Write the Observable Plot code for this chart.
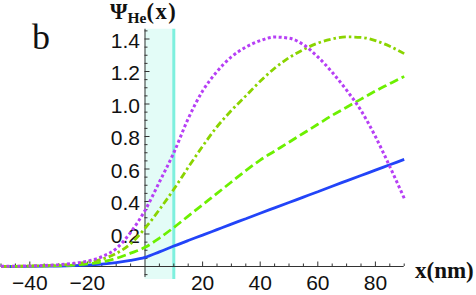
<!DOCTYPE html>
<html><head><meta charset="utf-8">
<script src="https://cdn.jsdelivr.net/npm/d3@7"></script>
<script src="https://cdn.jsdelivr.net/npm/@observablehq/plot@0.6"></script>
<style>
html,body{margin:0;padding:0;background:#fff;}
#wrap{position:relative;width:476px;height:295px;overflow:hidden;}
</style></head><body><div id="wrap"></div>
<script>
// x positions (nm)
const xs = [-50,-45,-40,-35,-30,-25,-20,-15,-10,-5,0,5,10,15,20,25,30,35,40,45,50,55,60,65,70,75,80,85,90];
// series values
const blueSolid   = [0.000,0.000,0.001,0.002,0.003,0.005,0.009,0.015,0.024,0.037,0.056,0.090,0.126,0.160,0.193,0.227,0.261,0.294,0.328,0.361,0.394,0.427,0.460,0.494,0.527,0.560,0.593,0.626,0.659];
const greenDashed = [0.000,0.001,0.002,0.003,0.005,0.009,0.016,0.028,0.050,0.082,0.118,0.175,0.240,0.310,0.380,0.450,0.520,0.590,0.655,0.710,0.765,0.820,0.875,0.930,0.980,1.030,1.080,1.125,1.170];
const greenDashDot= [0.000,0.001,0.003,0.005,0.009,0.015,0.027,0.045,0.080,0.140,0.235,0.350,0.475,0.610,0.740,0.860,0.960,1.050,1.140,1.220,1.285,1.335,1.375,1.400,1.413,1.410,1.390,1.355,1.310];
const purpleDotted= [0.001,0.002,0.003,0.006,0.011,0.019,0.033,0.060,0.110,0.210,0.345,0.520,0.700,0.910,1.080,1.200,1.290,1.350,1.390,1.412,1.405,1.365,1.290,1.195,1.085,0.960,0.800,0.615,0.420];
// shaded region (nm)
const shadeRegion = [0, 10];
// axis extents and ticks
const xDomain = [-50, 90];
const yDomain = [-0.08, 1.46];
const xMajorTicks = [-40, -20, 20, 40, 60, 80];
const xMinorTicks = d3.range(-50, 91, 5).filter(v => v % 20 !== 0);
const yMajorTicks = [0.2, 0.4, 0.6, 0.8, 1.0, 1.2, 1.4];
const yMinorTicks = d3.range(-1, 30).map(i => +(i * 0.05).toFixed(2)).filter(v => Math.round(v * 100) % 20 !== 0);
const titleText = ["Ψ", "He", "(x)"];
const panelLabel = "b";
const xAxisLabel = "x(nm)";

function series(vals) { return xs.map((x, i) => ({x, y: vals[i]})); }

const axisColor = "#333";
const sans = "Liberation Sans, Arial, sans-serif";
const fmtX = v => (v < 0 ? "\u2212" + Math.abs(v) : String(v));
const fmtY = v => v.toFixed(1);
const lineOpts = {x: "x", y: "y", curve: "monotone-x", strokeLinecap: "butt", strokeLinejoin: "miter"};

const plot = Plot.plot({
  width: 476, height: 295,
  marginTop: 0, marginRight: 0, marginBottom: 0, marginLeft: 0,
  x: {domain: xDomain, range: [0.5, 403.7], axis: null},
  y: {domain: yDomain, range: [279, 28.75], axis: null},
  style: {background: "white", overflow: "visible"},
  marks: [
    Plot.rect([shadeRegion], {x1: d => d[0], x2: d => d[1], y1: yDomain[0], y2: yDomain[1], fill: "#e3fcf7"}),
    Plot.ruleX([shadeRegion[1]], {y1: yDomain[0], y2: yDomain[1], stroke: "#7ef0de", strokeWidth: 3}),
    // axes
    Plot.ruleY([0], {x1: xDomain[0], x2: xDomain[1], stroke: axisColor, strokeWidth: 1}),
    Plot.ruleX([0], {y1: -0.068, y2: yDomain[1], stroke: axisColor, strokeWidth: 1}),
    Plot.ruleX(xMajorTicks, {x: d => d, y1: 0, y2: 0, insetTop: -4.5, stroke: axisColor}),
    Plot.ruleX(xMinorTicks, {x: d => d, y1: 0, y2: 0, insetTop: -2.5, stroke: axisColor}),
    Plot.ruleY(yMajorTicks, {y: d => d, x1: 0, x2: 0, insetRight: -5, stroke: axisColor}),
    Plot.ruleY(yMinorTicks, {y: d => d, x1: 0, x2: 0, insetRight: -3, stroke: axisColor}),
    Plot.text(xMajorTicks, {x: d => d, y: 0, text: fmtX, dy: 17, fontSize: 21, fontFamily: sans, fill: "#111"}),
    Plot.text(yMajorTicks, {x: 0, y: d => d, text: fmtY, dx: -5, dy: 2, textAnchor: "end", fontSize: 21, fontFamily: sans, fill: "#111"}),
    // curves
    Plot.line(series(blueSolid), {...lineOpts, stroke: "#2244f8", strokeWidth: 2.8}),
    Plot.line(series(greenDashed), {...lineOpts, stroke: "#6cf000", strokeWidth: 2.8, strokeDasharray: "9 4"}),
    Plot.line(series(greenDashDot), {...lineOpts, stroke: "#8ad400", strokeWidth: 2.8, strokeDasharray: "7 3 2.5 3"}),
    Plot.line(series(purpleDotted), {...lineOpts, stroke: "#b63ff5", strokeWidth: 3, strokeDasharray: "3 2.5"})
  ]
});

const svg = d3.select(plot);
const serif = "Liberation Serif, Times New Roman, serif";
const t = svg.append("text").attr("x", 110).attr("y", 19).attr("text-anchor", "start")
  .attr("font-family", serif).attr("font-weight", "bold").attr("font-size", 22.5).attr("fill", "#111");
t.append("tspan").text(titleText[0]);
t.append("tspan").attr("font-size", 15.5).attr("dy", 3.5).text(titleText[1]);
t.append("tspan").attr("dy", -3.5).attr("letter-spacing", 1.5).text(titleText[2]);
svg.append("text").attr("x", 32).attr("y", 49).attr("text-anchor", "start").attr("font-family", serif)
  .attr("font-size", 36).attr("fill", "#111").text(panelLabel);
svg.append("text").attr("x", 415).attr("y", 278).attr("text-anchor", "start").attr("font-family", serif)
  .attr("font-weight", "bold").attr("font-size", 23).attr("fill", "#111").text(xAxisLabel);

document.getElementById("wrap").appendChild(plot);
</script></body></html>
